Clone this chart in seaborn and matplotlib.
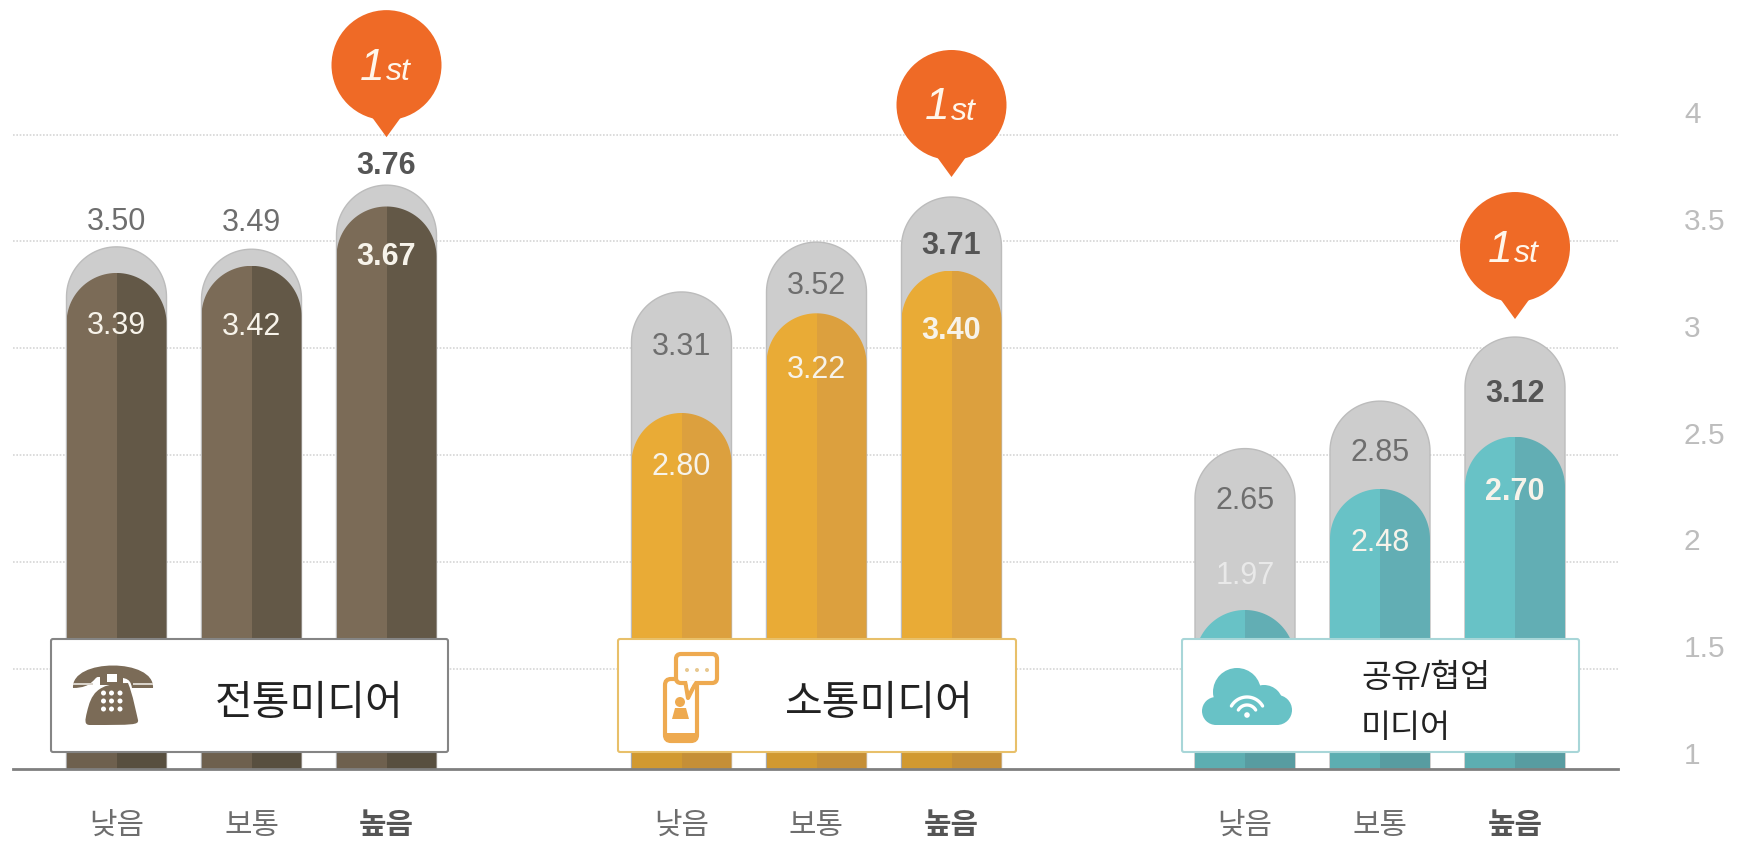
import numpy as np
import pandas as pd
import seaborn as sns
import matplotlib.pyplot as plt
from matplotlib.path import Path
from matplotlib.patches import Circle, Rectangle, Polygon, PathPatch, FancyBboxPatch

# values
levels = ["낮음", "보통", "높음"]
sides = ["left", "right"]
trad_total = [3.50, 3.49, 3.76]
trad_value = [3.39, 3.42, 3.67]
comm_total = [3.31, 3.52, 3.71]
comm_value = [2.80, 3.22, 3.40]
share_total = [2.65, 2.85, 3.12]
share_value = [1.97, 2.48, 2.70]
axis_ticks = [1, 1.5, 2, 2.5, 3, 3.5, 4]
axis_labels = ["1", "1.5", "2", "2.5", "3", "3.5", "4"]

# layout, in pixels of the final image
W, H = 1747, 842
AX_L, AX_R, AX_B = 13, 1618, 769
BAR_W = 100
STEP = 135
starts = [116.5, 681.5, 1245]
YLIM = (1.30, 4.54)
GRID_YLIM = (1.03, 4.63)

totals = [trad_total, comm_total, share_total]
values = [trad_value, comm_value, share_value]
left_cols = ["#7b6b57", "#e9ab36", "#68c2c6"]
right_cols = ["#635847", "#dca03e", "#62aeb4"]
edge_cols = ["#858585", "#e8c06a", "#a8d6d8"]
grey = "#cdcdcd"
orange = "#ef6a26"

# label offsets from the bar top, pixels (negative is above)
total_off = [[-25, -26, -19], [55, 44, 49], [52, 52, 57]]
value_off = [[53, 61, 51], [54, 57, 60], [-34, 54, 55]]
pin_gap = [48, 20, 18]

sns.set_theme(style="white")
plt.rcParams["font.family"] = ["Liberation Sans", "Noto Sans CJK KR"]

fig = plt.figure(figsize=(W / 100, H / 100), dpi=100)
ax = fig.add_axes([AX_L / W, 1 - AX_B / H, (AX_R - AX_L) / W, AX_B / H])
grid_ax = ax.twinx()
ax.set_zorder(2)
grid_ax.set_zorder(1)
ax.patch.set_visible(False)

px_per_unit = AX_B / (YLIM[1] - YLIM[0])


def top_px(v):
    return (YLIM[1] - v) * px_per_unit


def round_top(c, v):
    # bar outline with a half round top, used as clip
    ry = (BAR_W / 2) / px_per_unit
    t = np.linspace(np.pi, 0, 60)
    xs = c + BAR_W / 2 * np.cos(t)
    ys = v - ry + ry * np.sin(t)
    pts = [(c - BAR_W / 2, 0)] + list(zip(xs, ys)) + [(c + BAR_W / 2, 0), (c - BAR_W / 2, 0)]
    return Path(pts, closed=True)


def draw_bars(pos, vals, palette):
    df = pd.DataFrame({"pos": np.repeat(pos, 2), "value": np.repeat(vals, 2), "side": sides * 3})
    before = len(ax.patches)
    sns.barplot(data=df, x="pos", y="value", hue="side", hue_order=sides, palette=palette,
                native_scale=True, gap=0, width=BAR_W / STEP, saturation=1, linewidth=0,
                legend=False, errorbar=None, ax=ax)
    for p in ax.patches[before:]:
        mid = p.get_x() + p.get_width() / 2
        i = int(np.argmin(np.abs(np.array(pos) - mid)))
        p.set_clip_path(round_top(pos[i], vals[i]), ax.transData)


all_pos = []
for g in range(3):
    pos = [starts[g] + STEP * i for i in range(3)]
    all_pos += pos
    draw_bars(pos, totals[g], [grey, grey])
    for i in range(3):
        ax.add_patch(PathPatch(round_top(pos[i], totals[g][i]), fill=False, ec="#bcbcbc", lw=1))
    draw_bars(pos, values[g], [left_cols[g], right_cols[g]])
    for i in range(3):
        bold = i == 2
        weight = "bold" if bold else "normal"
        ax.annotate(f"{totals[g][i]:.2f}", (pos[i], totals[g][i]), xytext=(0, -total_off[g][i] * 0.72),
                    textcoords="offset points", ha="center", va="center", fontsize=22,
                    color="#555555" if bold else "#6e6e6e", fontweight=weight)
        col = "#e9e9e9" if (g == 2 and i == 0) else "#f7f3ea"
        ax.annotate(f"{values[g][i]:.2f}", (pos[i], values[g][i]), xytext=(0, -value_off[g][i] * 0.72),
                    textcoords="offset points", ha="center", va="center", fontsize=22,
                    color=col, fontweight=weight)

ax.set_xlim(AX_L, AX_R)
ax.set_ylim(*YLIM)
ax.set_xlabel("")
ax.set_ylabel("")
ax.set_yticks([])
ax.set_xticks(all_pos, levels * 3)
ax.tick_params(axis="x", length=0, pad=31, labelsize=21.5, labelcolor="#6e6e6e")
for n, lab in enumerate(ax.get_xticklabels()):
    if n % 3 == 2:
        lab.set_fontweight("bold")
        lab.set_color("#555555")
for s in ["top", "left", "right"]:
    ax.spines[s].set_visible(False)
    grid_ax.spines[s].set_visible(False)
grid_ax.spines["bottom"].set_visible(False)
ax.spines["bottom"].set_color("#7f7f7f")
ax.spines["bottom"].set_linewidth(2)

# dotted guide lines and the labels on the right
grid_ax.set_ylim(*GRID_YLIM)
grid_ax.set_yticks(axis_ticks[1:])
grid_ax.set_yticklabels([])
grid_ax.tick_params(axis="y", length=0)
grid_ax.grid(True, axis="y", linestyle=(0, (1, 1)), color="#d6d6d6", linewidth=1.2)
for v, txt in zip(axis_ticks, axis_labels):
    grid_ax.annotate(txt, (1, v), xycoords=("axes fraction", "data"), xytext=(47.5, 14),
                     textcoords="offset points", ha="left", va="center", fontsize=21.5, color="#bdbdbd")

# overlay in image pixels for boxes, pins and icons
top = fig.add_axes([0, 0, 1, 1], zorder=5)
top.set_xlim(0, W)
top.set_ylim(H, 0)
top.axis("off")

for c in all_pos:
    top.add_patch(Rectangle((c - BAR_W / 2, 753), BAR_W, AX_B - 754, color="black", alpha=0.1, lw=0))

box_x = [(51, 448), (618, 1016), (1182, 1579)]
for (x0, x1), ec in zip(box_x, edge_cols):
    top.add_patch(FancyBboxPatch((x0, 639), x1 - x0, 113, boxstyle="round,pad=0,rounding_size=2",
                                 fc="white", ec=ec, lw=1.5))

top.text(309, 704, "전통미디어", fontsize=29.5, color="#222222", ha="center", va="center")
top.text(879, 704, "소통미디어", fontsize=29.5, color="#222222", ha="center", va="center")
top.text(1361, 678, "공유/협업", fontsize=23.5, color="#222222", ha="left", va="center")
top.text(1361, 729, "미디어", fontsize=23.5, color="#222222", ha="left", va="center")

# 1st pins
for g in range(3):
    c = starts[g] + STEP * 2
    tip = top_px(totals[g][2]) - pin_gap[g]
    cy = tip - 72
    top.add_patch(Circle((c, cy), 55, color=orange, lw=0))
    top.add_patch(Polygon([(c - 16, cy + 50), (c + 16, cy + 50), (c, tip)], color=orange, lw=0))
    top.text(c - 2, cy + 3, "1", fontsize=32, style="italic", color="#fff6ea", ha="right", va="center")
    top.text(c - 1, cy + 7, "st", fontsize=23, style="italic", color="#fff6ea", ha="left", va="center")

# telephone
brown = left_cols[0]
C = Path.CURVE4
hand = Path([(73, 688), (71, 658), (155, 658), (153, 688), (132, 688), (130, 677), (126, 677),
             (98, 677), (94, 677), (93, 688), (73, 688)],
            [Path.MOVETO, C, C, C, Path.LINETO, C, C, Path.LINETO, C, C, Path.LINETO])
top.add_patch(PathPatch(hand, fc=brown, lw=0))
top.add_patch(Rectangle((73, 683), 20, 1.5, fc="#d9d3ca", lw=0))
top.add_patch(Rectangle((133, 683), 20, 1.5, fc="#d9d3ca", lw=0))
body = Path([(90, 725), (84, 725), (85, 720), (87, 712), (91, 695), (96, 683), (128, 683),
             (133, 695), (136, 712), (138, 720), (139, 725), (133, 725), (90, 725)],
            [Path.MOVETO, C, C, C, C, C, Path.LINETO, C, C, C, C, C, Path.LINETO])
top.add_patch(PathPatch(body, fc=brown, lw=0))
top.add_patch(Rectangle((100, 672), 23, 13, fc=brown, lw=0))
top.add_patch(Rectangle((107, 674), 10, 8, fc="white", lw=0))
for ky in [693, 701, 709]:
    for kx in [103.5, 111.5, 120]:
        top.add_patch(Circle((kx, ky), 2.5, fc="white", lw=0))

# phone with chat bubble
amber = "#eeaa50"
top.add_patch(FancyBboxPatch((665, 679), 32, 62, boxstyle="round,pad=0,rounding_size=6", fc="white", ec=amber, lw=3))
top.add_patch(Rectangle((665, 733), 32, 7, fc=amber, lw=0))
top.add_patch(Polygon([(685, 680), (697, 680), (688, 698)], fc="white", ec=amber, lw=3, joinstyle="round"))
top.add_patch(FancyBboxPatch((676, 654), 41, 29, boxstyle="round,pad=0,rounding_size=5", fc="white", ec=amber, lw=3))
top.add_patch(Polygon([(687, 681), (695, 681), (689, 690)], fc="white", lw=0))
for dx in [687, 697, 707]:
    top.add_patch(Circle((dx, 670), 2, fc="#e8c890", lw=0))
top.add_patch(Circle((680, 702), 5, fc=amber, lw=0))
top.add_patch(Polygon([(672, 719), (689, 719), (686, 708), (675, 708)], fc=amber, lw=0))

# cloud with wifi
teal = left_cols[2]
for cx, cy, r in [(1237, 692, 24), (1216, 711, 14), (1264, 704, 19), (1277, 710, 15)]:
    top.add_patch(Circle((cx, cy), r, fc=teal, lw=0))
top.add_patch(Rectangle((1216, 700), 61, 25, fc=teal, lw=0))
t = np.linspace(np.radians(-150), np.radians(-30), 30)
for r in [18, 10]:
    top.plot(1247 + r * np.cos(t), 715 + r * np.sin(t), color="white", lw=2.4, solid_capstyle="round")
top.add_patch(Circle((1247, 715), 2.8, fc="white", lw=0))

fig.savefig("out.png", dpi=100)
